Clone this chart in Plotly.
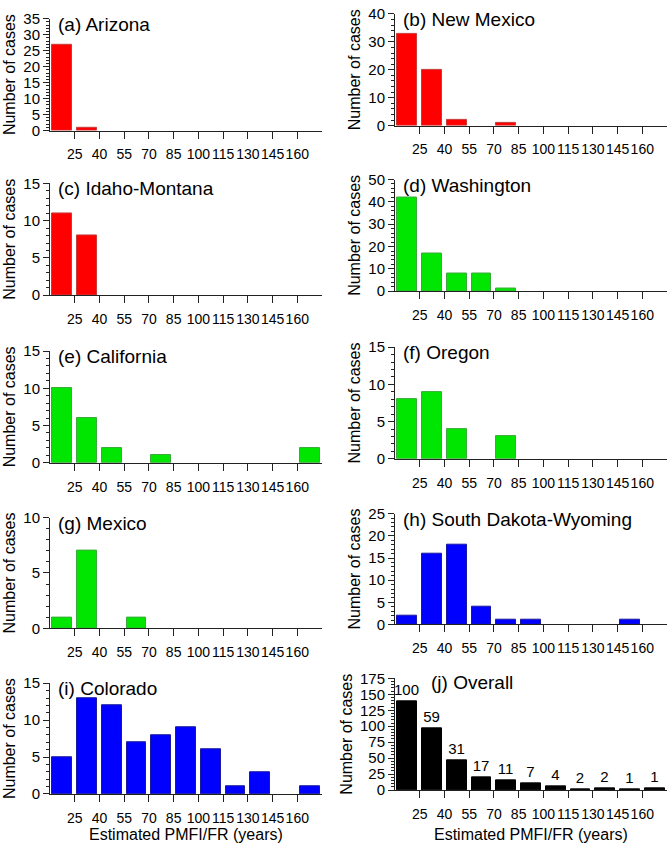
import plotly.graph_objects as go

# ---------------- data ----------------
bin_centers = [17.5, 32.5, 47.5, 62.5, 77.5, 92.5, 107.5, 122.5, 137.5, 152.5, 167.5]
tick_vals = [25, 40, 55, 70, 85, 100, 115, 130, 145, 160]
tick_labels = ["25", "40", "55", "70", "85", "100", "115", "130", "145", "160"]

arizona = [27, 1, 0, 0, 0, 0, 0, 0, 0, 0, 0]
new_mexico = [33, 20, 2, 0, 1, 0, 0, 0, 0, 0, 0]
idaho_montana = [11, 8, 0, 0, 0, 0, 0, 0, 0, 0, 0]
washington = [42, 17, 8, 8, 1, 0, 0, 0, 0, 0, 0]
california = [10, 6, 2, 0, 1, 0, 0, 0, 0, 0, 2]
oregon = [8, 9, 4, 0, 3, 0, 0, 0, 0, 0, 0]
mexico = [1, 7, 0, 1, 0, 0, 0, 0, 0, 0, 0]
south_dakota_wyoming = [2, 16, 18, 4, 1, 1, 0, 0, 0, 1, 0]
colorado = [5, 13, 12, 7, 8, 9, 6, 1, 3, 0, 1]
overall = [139, 97, 47, 20, 15, 10, 6, 1, 3, 1, 3]
overall_labels = ["100", "59", "31", "17", "11", "7", "4", "2", "2", "1", "1"]
x_title = "Estimated PMFI/FR (years)"
y_title = "Number of cases"

RED = ("#ff0000", "#c83c3c")
GREEN = ("#00e600", "#3caa3c")
BLUE = ("#0000ff", "#1a1aa0")
BLACK = ("#000000", "#000000")

# title, values, colour, col, top_px, bottom_px, ymax, dtick, minor
panels = [
    ("(a) Arizona", arizona, RED, 0, 10, 124, 35, 5, 1),
    ("(b) New Mexico", new_mexico, RED, 1, 5, 119, 40, 10, 2),
    ("(c) Idaho-Montana", idaho_montana, RED, 0, 178, 292, 15, 5, 1),
    ("(d) Washington", washington, GREEN, 1, 174, 288, 50, 10, 2),
    ("(e) California", california, GREEN, 0, 349, 463, 15, 5, 1),
    ("(f) Oregon", oregon, GREEN, 1, 345, 459, 15, 5, 1),
    ("(g) Mexico", mexico, GREEN, 0, 519, 632, 10, 5, 1),
    ("(h) South Dakota-Wyoming", south_dakota_wyoming, BLUE, 1, 515, 628, 25, 5, 1),
    ("(i) Colorado", colorado, BLUE, 0, 688, 801, 15, 5, 1),
    ("(j) Overall", overall, BLACK, 1, 683, 797, 175, 25, 5),
]

W, H = 670, 850
FONT = "Liberation Sans, Arial, sans-serif"
AXC = "#222222"
xdom = [(50 / W, 322 / W), (395 / W, 667 / W)]

fig = go.Figure()
layout = dict(
    width=W, height=H,
    margin=dict(l=0, r=0, t=0, b=0),
    paper_bgcolor="white", plot_bgcolor="white",
    showlegend=False,
    font=dict(family=FONT, size=15, color="black"),
    bargap=0,
)
annotations = []

for i, (title, vals, col, c, top, bot, ymax, dt, mn) in enumerate(panels):
    n = i + 1
    xa = "x" if n == 1 else f"x{n}"
    ya = "y" if n == 1 else f"y{n}"
    shown = [v if v else None for v in vals]
    trace = go.Bar(
        x=bin_centers, y=shown, width=12,
        marker=dict(color=col[0], line=dict(color=col[1], width=1)),
        xaxis=xa, yaxis=ya, hoverinfo="x+y",
    )
    if n == 10:
        trace.update(text=overall_labels, textposition="outside",
                     textfont=dict(size=15, color="black"), cliponaxis=False,
                     constraintext="none")
    fig.add_trace(trace)

    layout[f"xaxis{'' if n == 1 else n}"] = dict(
        domain=list(xdom[c]), anchor=ya, range=[10, 175],
        tickvals=tick_vals, ticktext=tick_labels, tickangle=0,
        ticks="outside", ticklen=7, tickwidth=1, tickcolor=AXC,
        showline=True, linecolor=AXC, linewidth=1,
        showgrid=False, zeroline=False,
        tickfont=dict(size=14), ticklabelstandoff=4,
        fixedrange=True,
    )
    layout[f"yaxis{'' if n == 1 else n}"] = dict(
        domain=[1 - bot / H, 1 - top / H], anchor=xa, range=[0, ymax],
        dtick=dt, tick0=0,
        ticks="outside", ticklen=6, tickwidth=1, tickcolor=AXC,
        minor=dict(dtick=mn, tick0=0, ticks="outside", ticklen=3, tickcolor=AXC, tickwidth=1),
        showline=True, linecolor=AXC, linewidth=1,
        showgrid=False, zeroline=False,
        tickfont=dict(size=15),
        title=dict(text=y_title, font=dict(size=16), standoff=3),
        fixedrange=True,
    )
    if n == 10:
        xs, ys = 34, 8
    else:
        xs, ys = 6, 7
    annotations.append(dict(
        text=title, xref=f"{xa} domain", yref=f"{ya} domain",
        x=0, y=1, xanchor="left", yanchor="top", xshift=xs, yshift=ys,
        showarrow=False, font=dict(size=19, color="black"),
    ))
    if n in (9, 10):
        annotations.append(dict(
            text=x_title, xref=f"{xa} domain", yref=f"{ya} domain",
            x=0.5, y=0, xanchor="center", yanchor="middle",
            yshift=-41 if n == 9 else -44,
            showarrow=False, font=dict(size=16, color="black"),
        ))

layout["annotations"] = annotations
fig.update_layout(**layout)
fig.write_html("out.html",
               config={"displayModeBar": False},
               post_script="document.body.style.margin='0';document.body.style.overflow='hidden';")
